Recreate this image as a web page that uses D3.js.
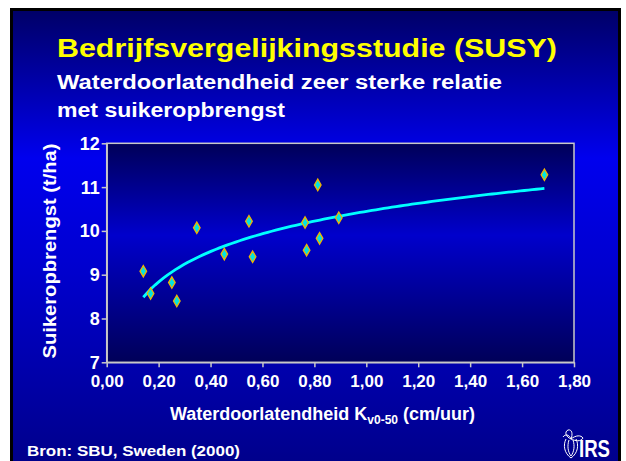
<!DOCTYPE html>
<html>
<head>
<meta charset="utf-8">
<script src="https://cdn.jsdelivr.net/npm/d3@7"></script>
<style>
  body { margin: 0; background: #fff; }
  text { font-family: "Liberation Sans", Arial, sans-serif; font-weight: bold; }
</style>
</head>
<body>
<svg id="chart" width="626" height="461"></svg>
<script>
// data
var permeability = [0.141, 0.169, 0.251, 0.270, 0.347, 0.453, 0.548, 0.562, 0.764, 0.770, 0.813, 0.820, 0.894, 1.686];
var sugarYield = [9.08, 8.57, 8.82, 8.40, 10.07, 9.47, 10.22, 9.41, 10.19, 9.56, 11.05, 9.83, 10.30, 11.28];
var xTicks = [0, 0.2, 0.4, 0.6, 0.8, 1.0, 1.2, 1.4, 1.6, 1.8];
var yTicks = [7, 8, 9, 10, 11, 12];

var svg = d3.select("#chart");
var defs = svg.append("defs");

// slide background gradient
var bg = defs.append("linearGradient").attr("id", "bg").attr("x1", 0).attr("y1", 0).attr("x2", 0).attr("y2", 1);
bg.append("stop").attr("offset", "0%").attr("stop-color", "#000068");
bg.append("stop").attr("offset", "32%").attr("stop-color", "#0000ee");
bg.append("stop").attr("offset", "55%").attr("stop-color", "#0000d0");
bg.append("stop").attr("offset", "100%").attr("stop-color", "#000088");

// plot area gradient
var pg = defs.append("linearGradient").attr("id", "plotbg").attr("x1", 0).attr("y1", 0).attr("x2", 0).attr("y2", 1);
pg.append("stop").attr("offset", "0%").attr("stop-color", "#000058");
pg.append("stop").attr("offset", "42%").attr("stop-color", "#0000cc");
pg.append("stop").attr("offset", "100%").attr("stop-color", "#000058");

// slide frame
svg.append("rect")
    .attr("x", 10).attr("y", 8)
    .attr("width", 611).attr("height", 460)
    .attr("fill", "#000");
svg.append("rect")
    .attr("x", 13).attr("y", 11)
    .attr("width", 605).attr("height", 460)
    .attr("fill", "url(#bg)");

// titles
svg.append("text")
    .attr("x", 57).attr("y", 57)
    .attr("font-size", "26px")
    .attr("fill", "#ffff00")
    .attr("textLength", 500).attr("lengthAdjust", "spacingAndGlyphs")
    .text("Bedrijfsvergelijkingsstudie (SUSY)");
svg.append("text")
    .attr("x", 57).attr("y", 89)
    .attr("font-size", "20px")
    .attr("fill", "#fff")
    .attr("textLength", 445).attr("lengthAdjust", "spacingAndGlyphs")
    .text("Waterdoorlatendheid zeer sterke relatie");
svg.append("text")
    .attr("x", 57).attr("y", 117)
    .attr("font-size", "20px")
    .attr("fill", "#fff")
    .attr("textLength", 228).attr("lengthAdjust", "spacingAndGlyphs")
    .text("met suikeropbrengst");

// scales
var x = d3.scaleLinear().domain([0, 1.8]).range([106.7, 574]);
var y = d3.scaleLinear().domain([7, 12]).range([362.3, 143.3]);

// plot area
svg.append("rect")
    .attr("x", x(0)).attr("y", y(12))
    .attr("width", x(1.8) - x(0)).attr("height", y(7) - y(12))
    .attr("fill", "url(#plotbg)")
    .attr("stroke", "#c8c8c8")
    .attr("stroke-width", 1.5);

// axes
var fmt = function(d) { return d3.format(".2f")(d).replace(".", ","); };

var xAxis = svg.append("g")
    .attr("transform", "translate(0," + y(7) + ")")
    .call(d3.axisBottom(x).tickValues(xTicks).tickFormat(fmt).tickSize(5).tickSizeOuter(0));
var yAxis = svg.append("g")
    .attr("transform", "translate(" + x(0) + ",0)")
    .call(d3.axisLeft(y).tickValues(yTicks).tickFormat(d3.format("d")).tickSize(5).tickSizeOuter(0));

svg.selectAll(".domain, .tick line").attr("stroke", "#c8c8c8").attr("stroke-width", 1.5);
xAxis.selectAll(".tick text")
    .attr("fill", "#fff").attr("font-size", "17px").attr("font-family", null)
    .attr("dy", null).attr("y", 25);
yAxis.selectAll(".tick text")
    .attr("fill", "#fff").attr("font-size", "18px").attr("font-family", null)
    .attr("x", -7).attr("dy", "0.33em");

// axis titles
svg.append("text")
    .attr("transform", "translate(56,251) rotate(-90)")
    .attr("text-anchor", "middle")
    .attr("font-size", "17.5px")
    .attr("fill", "#fff")
    .attr("textLength", 215).attr("lengthAdjust", "spacingAndGlyphs")
    .text("Suikeropbrengst (t/ha)");

var xt = svg.append("text")
    .attr("x", 170).attr("y", 420)
    .attr("font-size", "18px")
    .attr("fill", "#fff");
xt.append("tspan").text("Waterdoorlatendheid K");
xt.append("tspan").attr("font-size", "12px").attr("dy", 4).text("v0-50");
xt.append("tspan").attr("dy", -4).text(" (cm/uur)");

// logarithmic trend line fitted to the points
var lx = permeability.map(Math.log);
var mx = d3.mean(lx), my = d3.mean(sugarYield);
var sxy = d3.sum(lx, (d, i) => (d - mx) * (sugarYield[i] - my));
var sxx = d3.sum(lx, d => (d - mx) * (d - mx));
var slope = sxy / sxx, icpt = my - slope * mx;
var xmin = d3.min(permeability), xmax = d3.max(permeability);
var trend = d3.range(0, 101).map(i => xmin + (xmax - xmin) * i / 100);

svg.append("path")
    .datum(trend)
    .attr("d", d3.line().x(d => x(d)).y(d => y(icpt + slope * Math.log(d))))
    .attr("fill", "none")
    .attr("stroke", "#00ffff")
    .attr("stroke-width", 2.8);

// points
svg.selectAll(".pt").data(permeability).enter().append("path")
    .attr("class", "pt")
    .attr("transform", (d, i) => "translate(" + x(d) + "," + y(sugarYield[i]) + ")")
    .attr("d", d3.symbol(d3.symbolDiamond, 38))
    .attr("fill", "#00e4e4")
    .attr("stroke", "#f0b400")
    .attr("stroke-width", 1.3);

// source
svg.append("text")
    .attr("x", 27).attr("y", 456)
    .attr("font-size", "15px")
    .attr("fill", "#fff")
    .attr("textLength", 213).attr("lengthAdjust", "spacingAndGlyphs")
    .text("Bron: SBU, Sweden (2000)");

// IRS logo
var logo = svg.append("g").attr("transform", "translate(562,428)");
logo.append("path")
    .attr("d", "M4,11 C1,17 2,25 9,30 C16,25 17,17 14,11 M7,12 C5,18 6,24 9,28 C12,24 13,18 11,12")
    .attr("fill", "none").attr("stroke", "#fff").attr("stroke-width", 1);
logo.append("path")
    .attr("d", "M9,11 C4,9 2,4 6,2 C10,1 11,6 9,11 M9,11 C14,7 19,7 21,10 C19,14 13,13 9,11 M9,11 C7,6 3,6 1,9")
    .attr("fill", "none").attr("stroke", "#fff").attr("stroke-width", 1);
logo.append("text")
    .attr("x", 17).attr("y", 29)
    .attr("font-family", "'Liberation Serif', 'Times New Roman', serif")
    .attr("font-weight", "normal")
    .attr("font-size", "24px")
    .attr("fill", "#fff")
    .attr("textLength", 31).attr("lengthAdjust", "spacingAndGlyphs")
    .text("IRS");
</script>
</body>
</html>
